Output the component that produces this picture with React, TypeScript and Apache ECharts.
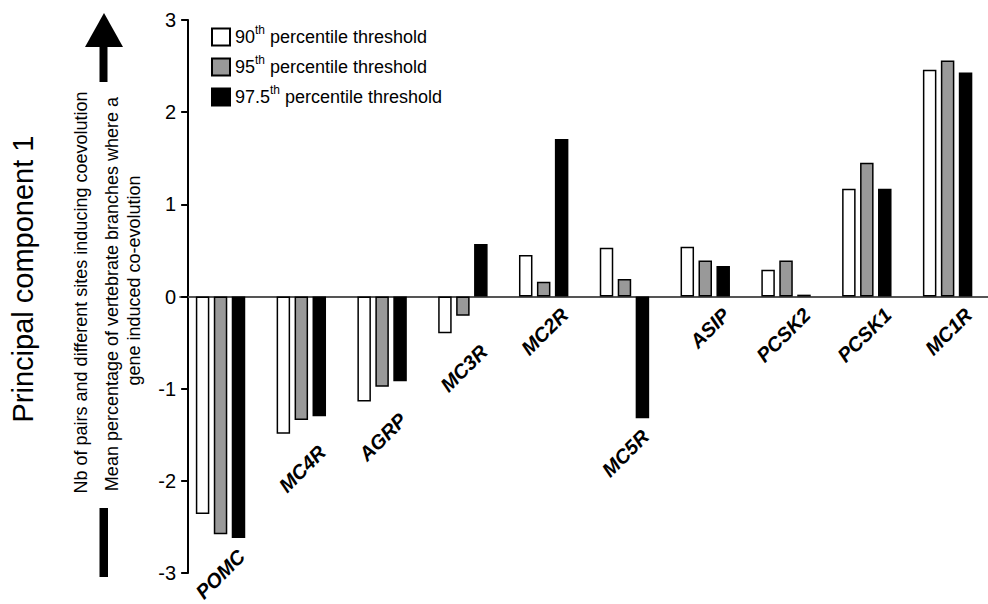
import React, { useEffect, useRef } from "react";
import * as echarts from "echarts";

const categories = ["POMC", "MC4R", "AGRP", "MC3R", "MC2R", "MC5R", "ASIP", "PCSK2", "PCSK1", "MC1R"];
const seriesNames = ["90th percentile threshold", "95th percentile threshold", "97.5th percentile threshold"];
const p90 = [-2.36, -1.49, -1.14, -0.4, 0.45, 0.53, 0.54, 0.29, 1.17, 2.46];
const p95 = [-2.58, -1.34, -0.98, -0.21, 0.16, 0.19, 0.39, 0.39, 1.45, 2.56];
const p975 = [-2.62, -1.3, -0.92, 0.57, 1.71, -1.32, 0.33, 0.02, 1.17, 2.43];
const yTicks = [-3, -2, -1, 0, 1, 2, 3];

const FONT = '"Liberation Sans", Arial, Helvetica, sans-serif';

export default function App() {
  const ref = useRef<HTMLDivElement>(null);
  useEffect(() => {
    if (!ref.current) return;
    const chart = echarts.init(ref.current, undefined, { renderer: "svg" });
    const labelBase = categories.map((_, i) => [i, Math.min(0, p90[i], p95[i], p975[i])]);
    const fills = ["#ffffff", "#999999", "#000000"];
    const values = [p90, p95, p975];
    const supParts = [
      ["90", " percentile threshold"],
      ["95", " percentile threshold"],
      ["97.5", " percentile threshold"],
    ];
    const rotText = (text: string, x: number, y: number, size: number) => ({
      type: "text",
      x,
      y,
      rotation: Math.PI / 2,
      style: {
        text,
        fontSize: size,
        fontFamily: FONT,
        align: "center",
        verticalAlign: "middle",
        fill: "#000",
      },
    });
    const option: any = {
      animation: false,
      backgroundColor: "#ffffff",
      grid: { left: 180.14, right: -15.14, top: 20, bottom: 31, containLabel: false },
      legend: {
        data: seriesNames,
        orient: "vertical",
        left: 211,
        top: 24,
        padding: 0,
        itemWidth: 18,
        itemHeight: 17,
        itemGap: 7.5,
        itemTextGap: 7,
        icon: "rect",
        selectedMode: false,
        formatter: (name: string) => {
          const i = seriesNames.indexOf(name);
          return `{n|${supParts[i][0]}}{s|th}{n|${supParts[i][1]}}`;
        },
        textStyle: {
          color: "#000",
          fontFamily: FONT,
          fontSize: 18,
          rich: {
            n: { fontSize: 18, fontFamily: FONT, color: "#000", lineHeight: 26 },
            s: { fontSize: 12, fontFamily: FONT, color: "#000", lineHeight: 12, verticalAlign: "top" },
          },
        },
      },
      xAxis: {
        type: "category",
        data: categories,
        axisLine: { show: true, onZero: true, lineStyle: { color: "#555", width: 2 } },
        axisTick: { show: false },
        axisLabel: { show: false },
        splitLine: { show: false },
      },
      yAxis: {
        type: "value",
        min: yTicks[0],
        max: yTicks[yTicks.length - 1],
        interval: 1,
        offset: -8,
        axisLine: { show: true, lineStyle: { color: "#000", width: 2 } },
        axisTick: { show: true, length: 7, lineStyle: { color: "#000", width: 2 } },
        axisLabel: { color: "#000", fontSize: 20, fontFamily: FONT, margin: 12 },
        splitLine: { show: false },
      },
      series: [
        ...values.map((v, k) => ({
          name: seriesNames[k],
          type: "bar",
          data: v,
          barWidth: 13.5,
          barGap: "33%",
          itemStyle: { color: fills[k], borderColor: "#000", borderWidth: 1.5 },
        })),
        {
          type: "custom",
          name: "labels",
          data: labelBase,
          silent: true,
          clip: false,
          encode: { x: 0, y: 1 },
          renderItem: (params: any, api: any) => {
            const p = api.coord([api.value(0), api.value(1)]);
            return {
              type: "text",
              x: p[0] + 21,
              y: p[1] + 15,
              rotation: Math.PI / 4,
              style: {
                text: categories[params.dataIndex],
                fontSize: 20,
                fontWeight: "bold",
                fontStyle: "italic",
                fontFamily: FONT,
                align: "right",
                verticalAlign: "middle",
                fill: "#000",
              },
            };
          },
        },
      ],
      graphic: [
        { type: "polygon", shape: { points: [[85, 47], [123, 47], [104, 13]] }, style: { fill: "#000" } },
        { type: "rect", shape: { x: 99.5, y: 46, width: 8, height: 36 }, style: { fill: "#000" } },
        { type: "rect", shape: { x: 99.5, y: 508, width: 8.5, height: 69 }, style: { fill: "#000" } },
        rotText("Principal component 1", 23, 279, 29),
        rotText("Nb of pairs and different sites inducing coevolution", 81, 292.5, 18),
        rotText("Mean percentage of vertebrate branches where a", 112, 294, 18),
        rotText("gene induced co-evolution", 134, 280.5, 18),
      ],
    };
    chart.setOption(option);
    return () => chart.dispose();
  }, []);
  return (
    <div
      ref={ref}
      style={{ position: "fixed", left: 0, top: 0, width: 988, height: 604, background: "#fff" }}
    />
  );
}
